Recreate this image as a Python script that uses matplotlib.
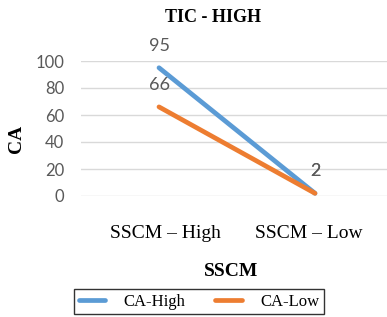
import numpy as np
import matplotlib.pyplot as plt
from matplotlib.transforms import ScaledTranslation

# Datos
categorias = ['SSCM – High', 'SSCM – Low']
ca_high = [95, 2]
ca_low = [66, 2]
yticks = [0, 20, 40, 60, 80, 100]

W, H = 387, 317
fig = plt.figure(figsize=(W / 100, H / 100), dpi=100)

# Área de trazado (en píxeles del original)
x0, x1 = 81, 393
y_top, y_bot = 61, 196
ax = fig.add_axes([x0 / W, 1 - y_bot / H, (x1 - x0) / W, (y_bot - y_top) / H])

x = np.arange(len(categorias))
l1, = ax.plot(x, ca_high, color='#5B9BD5', lw=3.4, solid_capstyle='round', label='CA-High')
l2, = ax.plot(x, ca_low, color='#ED7D31', lw=3.4, solid_capstyle='round', label='CA-Low')

# Etiquetas de datos
for serie in (ca_high, ca_low):
    for xi, v in zip(x, serie):
        ax.annotate(str(v), (xi, v), xytext=(0, 16), textcoords='offset points',
                    ha='center', va='center', fontsize=13, color='#595959', family='Lato')

ax.set_xlim(-0.5, 1.5)
ax.set_ylim(0, 100)
ax.set_yticks(yticks)
ax.set_yticklabels([str(t) for t in yticks], fontsize=12, color='#595959', family='Lato')
ax.set_xticks(x)
ax.set_xticklabels(categorias, fontsize=14, family='Liberation Serif', color='black')
ax.tick_params(axis='both', length=0)
ax.tick_params(axis='x', pad=21)
ax.tick_params(axis='y', pad=12)
ax.grid(axis='y', color='#D9D9D9', lw=1)
ax.set_axisbelow(True)
for s in ax.spines.values():
    s.set_visible(False)

# Las etiquetas de categoría están algo más al centro que los puntos
for lbl, dx in zip(ax.get_xticklabels(), [6, -6]):
    lbl.set_transform(lbl.get_transform() + ScaledTranslation(dx / 100, 0, fig.dpi_scale_trans))

fig.text(213 / W, 1 - 17 / H, 'TIC - HIGH', ha='center', va='center',
         fontsize=13, fontweight='bold', family='Liberation Serif')
fig.text(17 / W, 1 - 139 / H, 'CA', ha='center', va='center', rotation=90,
         fontsize=14, fontweight='bold', family='Liberation Serif')
fig.text(231 / W, 1 - 272 / H, 'SSCM', ha='center', va='center',
         fontsize=14, fontweight='bold', family='Liberation Serif')

leg = fig.legend(handles=[l1, l2], loc='center', bbox_to_anchor=(199 / W, 1 - 301.5 / H),
                 ncol=2, frameon=True, fancybox=False, edgecolor='black',
                 prop={'family': 'Liberation Serif', 'size': 12},
                 handlelength=1.6, handletextpad=1.1, columnspacing=1.8, borderpad=0.25,
                 borderaxespad=0)
leg.get_frame().set_linewidth(1)

fig.savefig('out.png', dpi=100)
